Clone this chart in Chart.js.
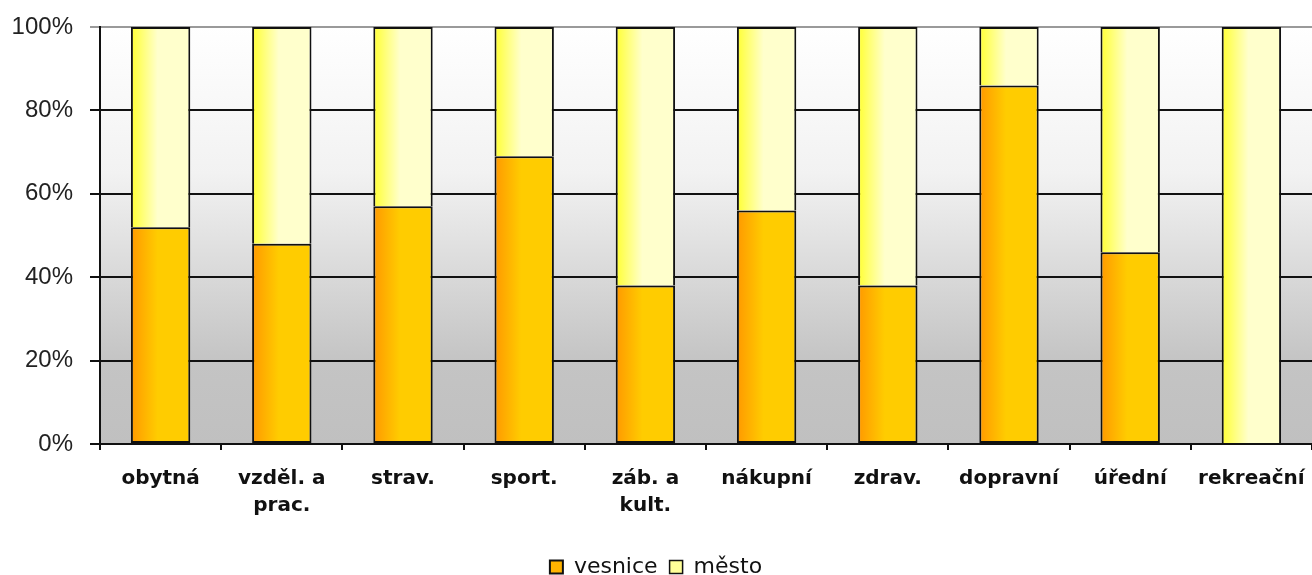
<!DOCTYPE html>
<html>
<head>
<meta charset="utf-8">
<script src="https://cdn.jsdelivr.net/npm/chart.js@4"></script>
<style>
  html, body { margin: 0; padding: 0; background: #fff; overflow: hidden; }
  #wrap { width: 1312px; height: 575px; }
</style>
</head>
<body>
<div id="wrap"><canvas id="graf"></canvas></div>
<script>
// kategorie a hodnoty (podíl v %)
const kategorie = ['obytná', ['vzděl. a', 'prac.'], 'strav.', 'sport.', ['záb. a', 'kult.'], 'nákupní', 'zdrav.', 'dopravní', 'úřední', 'rekreační'];
const vesnice = [52, 48, 57, 69, 38, 56, 38, 86, 46, 0];
const mesto = [48, 52, 43, 31, 62, 44, 62, 14, 54, 100];
const procenta = [0, 20, 40, 60, 80, 100];

// šedé pozadí s přechodem
const pozadi = {
    id: 'pozadi',
    beforeDraw(chart) {
        const { ctx, chartArea: a } = chart;
        const g = ctx.createLinearGradient(0, a.top, 0, a.bottom);
        g.addColorStop(0, '#FFFFFF');
        g.addColorStop(0.35, '#F2F2F2');
        g.addColorStop(0.8, '#C4C4C4');
        g.addColorStop(1, '#C0C0C0');
        ctx.save();
        ctx.fillStyle = g;
        ctx.fillRect(a.left, a.top, a.right - a.left, a.bottom - a.top);
        ctx.restore();
    }
};

// vodorovný přechod v každém sloupci
const barvy = [['#FF9900', '#FFCC00'], ['#FFFF33', '#FFFFCC']];
const prechody = {
    id: 'prechody',
    beforeDatasetsDraw(chart) {
        const ctx = chart.ctx;
        chart.data.datasets.forEach((ds, i) => {
            chart.getDatasetMeta(i).data.forEach(bar => {
                const l = bar.x - bar.width / 2;
                const g = ctx.createLinearGradient(l, 0, l + bar.width, 0);
                g.addColorStop(0, barvy[i][0]);
                g.addColorStop(0.45, barvy[i][1]);
                g.addColorStop(1, barvy[i][1]);
                // kopie, protože options jsou sdílené mezi sloupci
                bar.options = Object.assign({}, bar.options, { backgroundColor: g });
            });
        });
    }
};

const ctx = document.getElementById('graf').getContext('2d');
new Chart(ctx, {
    type: 'bar',
    data: {
        labels: kategorie,
        datasets: [{
            label: 'vesnice',
            data: vesnice,
            backgroundColor: '#FFB300',
            borderColor: '#111',
            borderWidth: 2,
            borderSkipped: false,
            barPercentage: 0.49,
            categoryPercentage: 1
        }, {
            label: 'město',
            data: mesto,
            backgroundColor: '#FFFF99',
            borderColor: '#111',
            borderWidth: { top: 2, left: 2, right: 2, bottom: 0 },
            borderSkipped: false,
            barPercentage: 0.49,
            categoryPercentage: 1
        }]
    },
    options: {
        responsive: true,
        maintainAspectRatio: false,
        animation: false,
        layout: { padding: { top: 27, right: 0, left: 0, bottom: -13 } },
        scales: {
            x: {
                stacked: true,
                grid: { drawOnChartArea: false, color: '#111', lineWidth: 2, tickLength: 6 },
                border: { display: false },
                ticks: {
                    color: '#111',
                    font: { family: 'DejaVu Sans', weight: 'bold', size: 20, lineHeight: 1.35 },
                    padding: 15,
                    maxRotation: 0,
                    autoSkip: false
                },
                afterFit(scale) {
                    scale.height = 100;
                    scale.paddingLeft = 0;
                    scale.paddingRight = 0;
                }
            },
            y: {
                stacked: true,
                min: 0,
                max: 100,
                afterBuildTicks(scale) { scale.ticks = procenta.map(v => ({ value: v })); },
                grid: {
                    color: c => c.tick && c.tick.value === 100 ? '#9a9a9a' : '#111',
                    lineWidth: 2,
                    tickLength: 10
                },
                border: { color: '#111', width: 2 },
                ticks: {
                    color: '#222',
                    font: { family: 'Liberation Sans', size: 24 },
                    padding: 17,
                    callback: v => v + '%'
                },
                afterFit(scale) {
                    scale.width = 100;
                    scale.paddingTop = 0;
                    scale.paddingBottom = 0;
                }
            }
        },
        plugins: {
            legend: {
                position: 'bottom',
                labels: {
                    color: '#111',
                    font: { family: 'DejaVu Sans', size: 22 },
                    boxWidth: 13,
                    boxHeight: 13,
                    padding: 12
                }
            },
            tooltip: { enabled: false }
        }
    },
    plugins: [pozadi, prechody]
});
</script>
</body>
</html>
